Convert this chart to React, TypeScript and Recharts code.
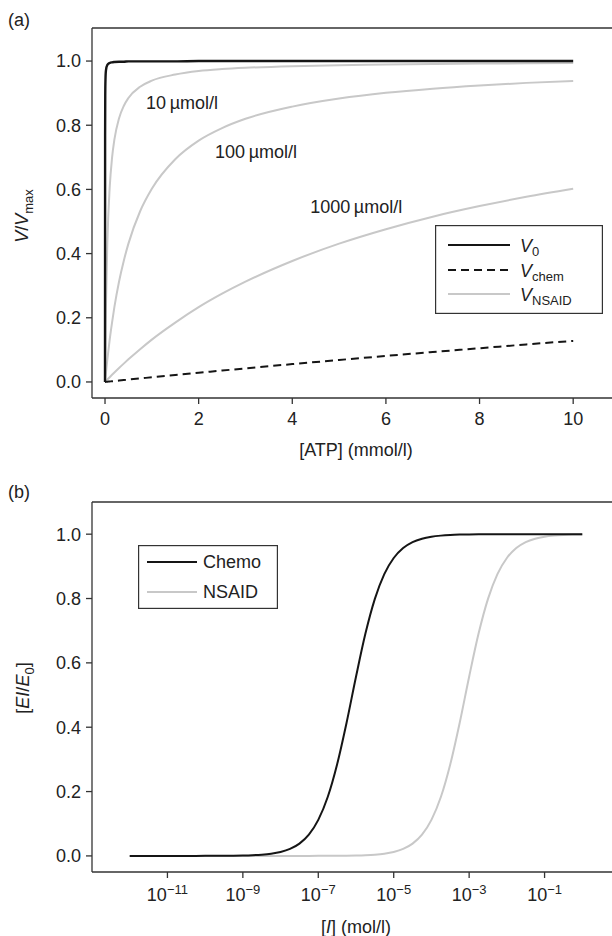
import React from 'react';
import { LineChart, Line, XAxis, YAxis, ReferenceLine, ReferenceDot, Legend } from 'recharts';

// ---------- Panel (a) data ----------
const atp = [0, 0.002, 0.005, 0.01, 0.02, 0.05, 0.1, 0.15, 0.2, 0.3, 0.4, 0.5, 0.75, 1, 1.5, 2, 2.5, 3, 4, 5, 6, 7, 8, 9, 10];
const v0 = [0, 0.769, 0.893, 0.943, 0.971, 0.988, 0.994, 0.996, 0.997, 0.998, 0.998, 0.999, 0.999, 0.999, 0.999, 1, 1, 1, 1, 1, 1, 1, 1, 1, 1];
const vChem = [0, 0, 0.0001, 0.0001, 0.0003, 0.0007, 0.0015, 0.0022, 0.0029, 0.0044, 0.0058, 0.0073, 0.011, 0.0145, 0.0216, 0.0286, 0.0355, 0.0423, 0.0556, 0.0685, 0.0811, 0.0933, 0.105, 0.117, 0.128];
const vNsaid10 = [0, 0.03, 0.071, 0.133, 0.235, 0.435, 0.606, 0.698, 0.755, 0.822, 0.86, 0.885, 0.92, 0.939, 0.958, 0.969, 0.975, 0.979, 0.984, 0.987, 0.989, 0.991, 0.992, 0.993, 0.994];
const vNsaid100 = [0, 0.003, 0.0075, 0.015, 0.029, 0.07, 0.132, 0.185, 0.233, 0.313, 0.377, 0.431, 0.532, 0.602, 0.694, 0.752, 0.791, 0.82, 0.858, 0.883, 0.901, 0.914, 0.924, 0.932, 0.938];
const vNsaid1000 = [0, 0.0003, 0.0008, 0.0015, 0.003, 0.0075, 0.0149, 0.0222, 0.0294, 0.0435, 0.0571, 0.0704, 0.102, 0.132, 0.185, 0.233, 0.275, 0.3125, 0.377, 0.431, 0.476, 0.515, 0.548, 0.577, 0.602];
const atpTicks = [0, 2, 4, 6, 8, 10];
const fracTicks = [0, 0.2, 0.4, 0.6, 0.8, 1.0];
const nsaidLabels = ['10\u2009µmol/l', '100\u2009µmol/l', '1000\u2009µmol/l'];

// ---------- Panel (b) data (x = log10 [I]) ----------
const logI = [-12, -11.75, -11.5, -11.25, -11, -10.75, -10.5, -10.25, -10, -9.75, -9.5, -9.25, -9, -8.75, -8.5, -8.25, -8, -7.75, -7.5, -7.25, -7, -6.75, -6.5, -6.25, -6, -5.75, -5.5, -5.25, -5, -4.75, -4.5, -4.25, -4, -3.75, -3.5, -3.25, -3, -2.75, -2.5, -2.25, -2, -1.75, -1.5, -1.25, -1, -0.75, -0.5, -0.25, 0];
const chemo = [0.000001, 0.000002, 0.000004, 0.000007, 0.000013, 0.000022, 0.00004, 0.00007, 0.000126, 0.000224, 0.000398, 0.000707, 0.00126, 0.00223, 0.00396, 0.00703, 0.0124, 0.0219, 0.0383, 0.0661, 0.112, 0.183, 0.285, 0.414, 0.557, 0.691, 0.799, 0.876, 0.926, 0.957, 0.9755, 0.986, 0.9921, 0.9955, 0.9975, 0.9986, 0.9992, 0.9996, 0.9997, 0.9998, 0.9999, 1, 1, 1, 1, 1, 1, 1, 1];
const nsaid = [0, 0, 0, 0, 0, 0, 0, 0, 0, 0, 0, 0, 0.000001, 0.000002, 0.000004, 0.000007, 0.000013, 0.000022, 0.00004, 0.00007, 0.000126, 0.000224, 0.000398, 0.000707, 0.00126, 0.00223, 0.00396, 0.00703, 0.0124, 0.0219, 0.0383, 0.0661, 0.112, 0.183, 0.285, 0.414, 0.557, 0.691, 0.799, 0.876, 0.926, 0.957, 0.9755, 0.986, 0.9921, 0.9955, 0.9975, 0.9986, 0.9992];
const logTicks = [-11, -9, -7, -5, -3, -1];

const topRows = atp.map((s, i) => ({ s, v0: v0[i], chem: vChem[i], n10: vNsaid10[i], n100: vNsaid100[i], n1000: vNsaid1000[i] }));
const botRows = logI.map((l, i) => ({ l, chemo: chemo[i], nsaid: nsaid[i] }));

const FONT = '"Liberation Sans", Arial, Helvetica, sans-serif';
const INK = '#222';
const AXIS = '#333';
const BLACK = '#151515';
const GREY = '#c8c8c8';
const FS = 18;

const YTitleA = () => (
  <text x={28} y={216} transform="rotate(-90, 28, 216)" textAnchor="middle" fontSize={FS} fill={INK}>
    <tspan fontStyle="italic">V</tspan>
    <tspan>/</tspan>
    <tspan fontStyle="italic">V</tspan>
    <tspan fontSize={13} dy={5}>max</tspan>
  </text>
);

const YTitleB = () => (
  <text x={29} y={218} transform="rotate(-90, 29, 218)" textAnchor="middle" fontSize={FS} fill={INK}>
    <tspan>[</tspan>
    <tspan fontStyle="italic">EI</tspan>
    <tspan>/</tspan>
    <tspan fontStyle="italic">E</tspan>
    <tspan fontSize={13} dy={5}>0</tspan>
    <tspan dy={-5}>]</tspan>
  </text>
);

const XTitleA = () => (
  <text x={356} y={456} textAnchor="middle" fontSize={FS} fill={INK}>[ATP] (mmol/l)</text>
);

const XTitleB = () => (
  <text x={356} y={463} textAnchor="middle" fontSize={FS} fill={INK}>
    <tspan>[</tspan>
    <tspan fontStyle="italic">I</tspan>
    <tspan>] (mol/l)</tspan>
  </text>
);

const PowTick = (props: any) => {
  const { x, y, payload } = props;
  const exp = String(payload.value).replace('-', '\u2212');
  return (
    <text x={x} y={y} textAnchor="middle" fontSize={FS} fill={INK}>
      <tspan dy="0.71em">10</tspan>
      <tspan fontSize={13} dy="-0.55em">{exp}</tspan>
    </text>
  );
};

const TopLegend = () => (
  <svg width={168} height={89} style={{ display: 'block' }}>
    <rect x={0.6} y={0.6} width={166.8} height={87.8} fill="#fff" stroke={AXIS} strokeWidth={1.2} />
    <line x1={13} x2={75} y1={20} y2={20} stroke={BLACK} strokeWidth={2.2} />
    <text x={85} y={27} fontSize={FS} fill={INK}>
      <tspan fontStyle="italic">V</tspan>
      <tspan fontSize={13} dy={4}>0</tspan>
    </text>
    <line x1={13} x2={75} y1={45} y2={45} stroke={BLACK} strokeWidth={2} strokeDasharray="8 5" />
    <text x={85} y={52} fontSize={FS} fill={INK}>
      <tspan fontStyle="italic">V</tspan>
      <tspan fontSize={13} dy={4}>chem</tspan>
    </text>
    <line x1={13} x2={75} y1={69} y2={69} stroke={GREY} strokeWidth={2} />
    <text x={85} y={76} fontSize={FS} fill={INK}>
      <tspan fontStyle="italic">V</tspan>
      <tspan fontSize={13} dy={4}>NSAID</tspan>
    </text>
  </svg>
);

const BotLegend = () => (
  <svg width={140} height={64} style={{ display: 'block' }}>
    <rect x={0.6} y={0.6} width={138.8} height={62.8} fill="#fff" stroke={AXIS} strokeWidth={1.2} />
    <line x1={9} x2={59} y1={17} y2={17} stroke={BLACK} strokeWidth={2} />
    <text x={65} y={23} fontSize={FS} fill={INK}>Chemo</text>
    <line x1={9} x2={59} y1={47} y2={47} stroke={GREY} strokeWidth={2} />
    <text x={65} y={53} fontSize={FS} fill={INK}>NSAID</text>
  </svg>
);

const labelPos = [
  { x: 0.855, y: 0.869 },
  { x: 2.33, y: 0.717 },
  { x: 4.36, y: 0.545 },
];

export default function App() {
  return (
    <div style={{ position: 'absolute', left: 0, top: 0, width: 612, height: 936, overflow: 'hidden', background: '#fff', fontFamily: FONT }}>
      <div style={{ position: 'absolute', left: 8, top: 10, fontSize: FS, color: INK }}>(a)</div>
      <div style={{ position: 'absolute', left: 8, top: 482, fontSize: FS, color: INK }}>(b)</div>

      <div style={{ position: 'absolute', left: 0, top: 0 }}>
        <LineChart width={620} height={470} data={topRows} margin={{ top: 28, right: 0, bottom: 42, left: 0 }}>
          <XAxis
            dataKey="s"
            type="number"
            domain={[-0.278, 11]}
            allowDataOverflow
            ticks={atpTicks}
            height={30}
            tickSize={6}
            tickMargin={8}
            axisLine={{ stroke: AXIS, strokeWidth: 1.3 }}
            tickLine={{ stroke: AXIS, strokeWidth: 1.3 }}
            tick={{ fontSize: FS, fill: INK }}
            label={<XTitleA />}
          />
          <YAxis
            type="number"
            domain={[-0.05, 1.103]}
            allowDataOverflow
            ticks={fracTicks}
            width={92}
            tickSize={6}
            tickMargin={5}
            tickFormatter={(v: number) => v.toFixed(1)}
            axisLine={{ stroke: AXIS, strokeWidth: 1.3 }}
            tickLine={{ stroke: AXIS, strokeWidth: 1.3 }}
            tick={{ fontSize: FS, fill: INK }}
            label={<YTitleA />}
          />
          <ReferenceLine y={1.103} stroke={AXIS} strokeWidth={1.3} />
          <Line type="monotone" dataKey="n1000" stroke={GREY} strokeWidth={2} dot={false} isAnimationActive={false} legendType="none" />
          <Line type="monotone" dataKey="n100" stroke={GREY} strokeWidth={2} dot={false} isAnimationActive={false} legendType="none" />
          <Line type="monotone" dataKey="n10" stroke={GREY} strokeWidth={2} dot={false} isAnimationActive={false} legendType="none" />
          <Line type="monotone" dataKey="chem" stroke={BLACK} strokeWidth={2} strokeDasharray="8 5" dot={false} isAnimationActive={false} />
          <Line type="monotone" dataKey="v0" stroke={BLACK} strokeWidth={2.4} dot={false} isAnimationActive={false} />
          {labelPos.map((p, i) => (
            <ReferenceDot
              key={i}
              x={p.x}
              y={p.y}
              r={1}
              fill="none"
              stroke="none"
              label={{ value: nsaidLabels[i], position: 'right', offset: 0, fontSize: FS, fill: INK }}
            />
          ))}
          <Legend
            layout="horizontal"
            verticalAlign="middle"
            align="center"
            content={<TopLegend />}
            wrapperStyle={{ left: 435, top: 225, width: 168, height: 89 }}
          />
        </LineChart>
      </div>

      <div style={{ position: 'absolute', left: 0, top: 470 }}>
        <LineChart width={620} height={466} data={botRows} margin={{ top: 32, right: 0, bottom: 34, left: 0 }}>
          <XAxis
            dataKey="l"
            type="number"
            domain={[-13, 1]}
            allowDataOverflow
            ticks={logTicks}
            height={30}
            tickSize={6}
            tickMargin={10}
            axisLine={{ stroke: AXIS, strokeWidth: 1.3 }}
            tickLine={{ stroke: AXIS, strokeWidth: 1.3 }}
            tick={<PowTick />}
            label={<XTitleB />}
          />
          <YAxis
            type="number"
            domain={[-0.05, 1.1]}
            allowDataOverflow
            ticks={fracTicks}
            width={92}
            tickSize={6}
            tickMargin={5}
            tickFormatter={(v: number) => v.toFixed(1)}
            axisLine={{ stroke: AXIS, strokeWidth: 1.3 }}
            tickLine={{ stroke: AXIS, strokeWidth: 1.3 }}
            tick={{ fontSize: FS, fill: INK }}
            label={<YTitleB />}
          />
          <ReferenceLine y={1.1} stroke={AXIS} strokeWidth={1.3} />
          <Line type="monotone" dataKey="nsaid" stroke={GREY} strokeWidth={2} dot={false} isAnimationActive={false} />
          <Line type="monotone" dataKey="chemo" stroke={BLACK} strokeWidth={2} dot={false} isAnimationActive={false} />
          <Legend
            layout="horizontal"
            verticalAlign="middle"
            align="center"
            content={<BotLegend />}
            wrapperStyle={{ left: 138, top: 75, width: 140, height: 64 }}
          />
        </LineChart>
      </div>
    </div>
  );
}
